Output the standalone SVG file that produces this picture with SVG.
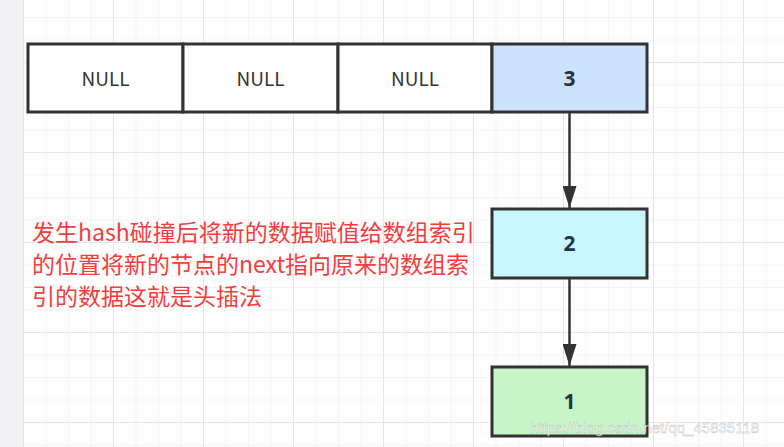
<svg xmlns="http://www.w3.org/2000/svg" width="784" height="447" viewBox="0 0 784 447">
  <defs>
    <pattern id="minor" x="23" y="-5.5" width="22.5" height="22.5" patternUnits="userSpaceOnUse">
      <path d="M0 0H22.5M0 0V22.5" fill="none" stroke="#ececec" stroke-width="1"/>
    </pattern>
    <pattern id="major" x="23" y="62" width="90" height="90" patternUnits="userSpaceOnUse">
      <path d="M0 0H90M0 0V90" fill="none" stroke="#e2e2e2" stroke-width="1.5"/>
    </pattern>
    <marker id="arr" markerWidth="22" markerHeight="14" refX="22" refY="7" orient="auto" markerUnits="userSpaceOnUse" viewBox="0 0 22 14">
      <path d="M0 0L22 7L0 14Z" fill="#333"/>
    </marker>
    <style>
      .cell { stroke: #333; stroke-width: 3; }
      .null { font-family: "Noto Sans CJK SC", "Open Sans", sans-serif; font-size: 19px; fill: #333; text-anchor: middle; }
      .num { font-family: "Open Sans", "Noto Sans", sans-serif; font-size: 21px; font-weight: bold; fill: #283240; text-anchor: middle; }
      .note { font-family: "Noto Sans CJK SC", sans-serif; font-size: 23px; fill: #f53c3c; }
      .conn { stroke: #333; stroke-width: 2.5; fill: none; }
    </style>
  </defs>
  <rect width="784" height="447" fill="#fdfdfd"/>
  <rect x="23" width="761" height="447" fill="url(#minor)"/>
  <rect x="23" width="761" height="447" fill="url(#major)"/>
  <rect width="23" height="447" fill="#f1f1f3"/>

  <g id="cell0"><rect class="cell" x="28" y="44" width="155" height="68" fill="#fff"/><text class="null" x="105.5" y="86">NULL</text></g>
  <g id="cell1"><rect class="cell" x="183" y="44" width="155" height="68" fill="#fff"/><text class="null" x="260.5" y="86">NULL</text></g>
  <g id="cell2"><rect class="cell" x="338" y="44" width="154" height="68" fill="#fff"/><text class="null" x="415" y="86">NULL</text></g>
  <g id="cell3"><rect class="cell" x="492" y="44" width="155" height="68" fill="#cce3fc"/><text class="num" x="569.5" y="86">3</text></g>

  <g id="node2"><rect class="cell" x="492" y="209" width="155" height="69" fill="#c8f7fe"/><text class="num" x="569.5" y="251">2</text></g>
  <g id="node1"><rect class="cell" x="492" y="367" width="155" height="69" fill="#c8f5c8"/><text class="num" x="569.5" y="409">1</text></g>

  <g id="connectors">
    <line class="conn" x1="569.5" y1="113" x2="569.5" y2="208" marker-end="url(#arr)"/>
    <line class="conn" x1="569.5" y1="279" x2="569.5" y2="366" marker-end="url(#arr)"/>
  </g>

  <g id="note">
    <text class="note" x="32" y="241">发生hash碰撞后将新的数据赋值给数组索引</text>
    <text class="note" x="32" y="273">的位置将新的节点的next指向原来的数组索</text>
    <text class="note" x="32" y="305">引的数据这就是头插法</text>
  </g>

  <text x="530" y="433" font-family="Liberation Sans, Arial, sans-serif" font-size="15" fill="#ffffff" fill-opacity="0.85" stroke="#9a9a9a" stroke-width="0.4" stroke-opacity="0.7">https://blog.csdn.net/qq_45835118</text>
</svg>
